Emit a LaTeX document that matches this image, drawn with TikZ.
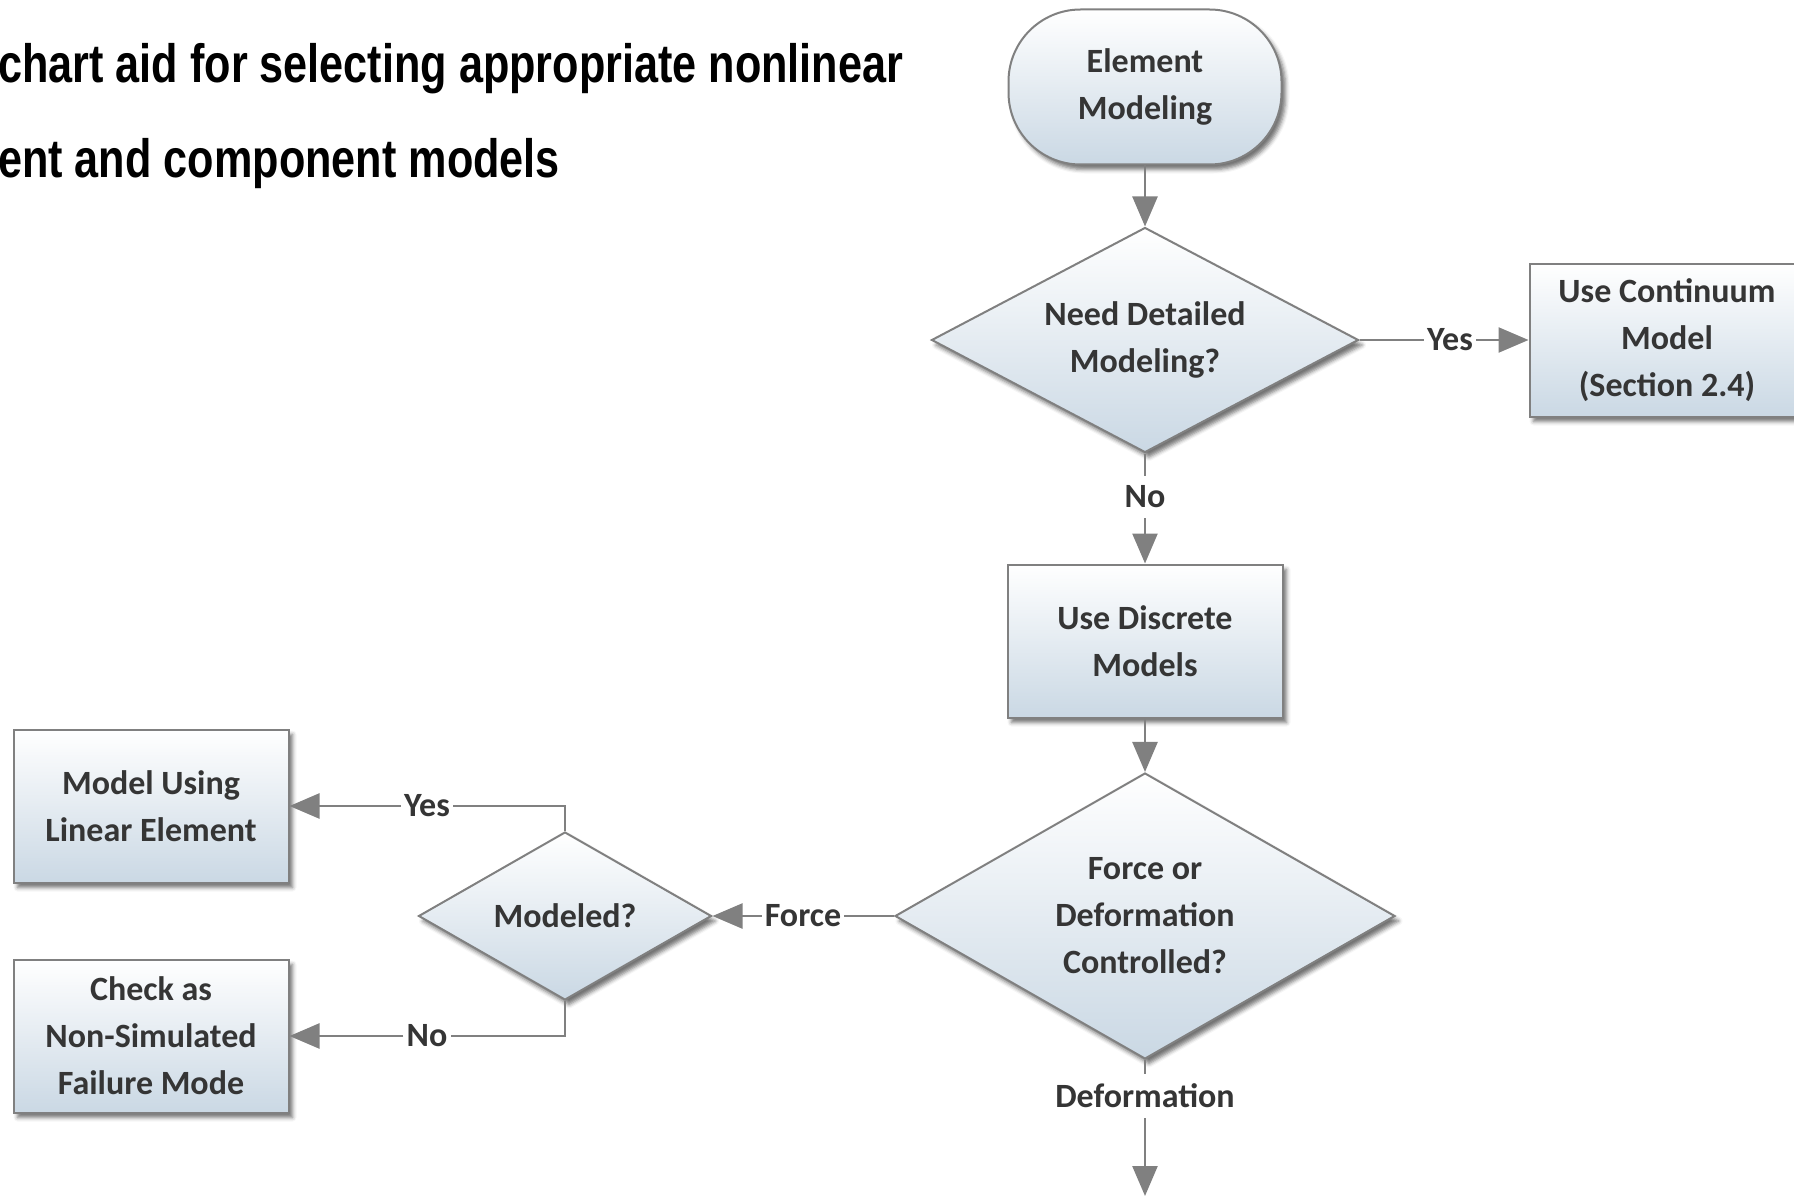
\documentclass[tikz,border=0pt]{standalone}
\usepackage{fontspec}
\setmainfont{Carlito}
\newfontfamily\titlefont{Liberation Sans}[FakeStretch=0.8]
\usetikzlibrary{shapes.geometric,arrows.meta,shadows.blur}
\definecolor{ink}{HTML}{353535}
\definecolor{wire}{HTML}{808080}
\definecolor{paleblue}{HTML}{CAD8E4}
\begin{document}
\begin{tikzpicture}[x=1pt,y=-1pt,
  every node/.style={font=\fontsize{34}{47}\selectfont\bfseries, text=ink},
  box/.style={draw=wire, line width=2pt, rectangle, align=center,
    minimum width=275pt, minimum height=153pt,
    top color=white, bottom color=paleblue,
    blur shadow={shadow xshift=4pt, shadow yshift=-5pt, shadow blur radius=4pt, shadow opacity=55}},
  start/.style={box, rounded corners=72pt, minimum width=273pt, minimum height=155pt},
  choice/.style={box, diamond, inner sep=0pt},
  lbl/.style={inner xsep=3pt, inner ysep=10pt},
  link/.style={draw=wire, line width=2.5pt},
  arr/.style={link, -{Triangle[length=30pt,width=25pt]}},
  title/.style={font=\titlefont\fontsize{54}{60}\selectfont\bfseries, text=black, inner sep=0pt, anchor=base west}]
\useasboundingbox (0,0) rectangle (1794,1196);
\node[title] (t1) at (-2,83) {chart aid for selecting appropriate nonlinear};
\node[title] (t2) at (-2,177) {ent and component models};
\node[start] (1) at (1145,87) {Element\\Modeling};
\node[choice, aspect=1.9, minimum width=427pt, minimum height=225pt] (2) at (1145,340) {Need Detailed\\Modeling?};
\node[box] (3) at (1667,340) {Use Continuum\\Model\\(Section 2.4)};
\node[box] (4) at (1145,641) {Use Discrete\\Models};
\node[choice, aspect=1.75, minimum width=500pt, minimum height=286pt] (5) at (1145,916) {Force or\\Deformation\\Controlled?};
\node[choice, aspect=1.74, minimum width=293pt, minimum height=168pt] (6) at (565,916) {Modeled?};
\node[box] (7) at (151,806) {Model Using\\Linear Element};
\node[box] (8) at (151,1036) {Check as\\Non-Simulated\\Failure Mode};
\node[lbl] (a) at (1450,340) {Yes};
\node[lbl] (b) at (1145,497) {No};
\node[lbl] (c) at (803,916) {Force};
\node[lbl] (d) at (427,806) {Yes};
\node[lbl] (e) at (427,1036) {No};
\node[lbl] (f) at (1145,1096) {Deformation};
\coordinate (g) at (1145,1196);
\path[arr] (1) -- (2);
\path[link] (2) -- (a);
\path[arr] (a) -- (3);
\path[link] (2) -- (b);
\path[arr] (b) -- (4);
\path[arr] (4) -- (5);
\path[link] (5) -- (c);
\path[arr] (c) -- (6);
\path[link] (6.north) |- (d);
\path[arr] (d) -- (7);
\path[link] (6.south) |- (e);
\path[arr] (e) -- (8);
\path[link] (5) -- (f);
\path[arr] (f) -- (g);
\end{tikzpicture}
\end{document}
